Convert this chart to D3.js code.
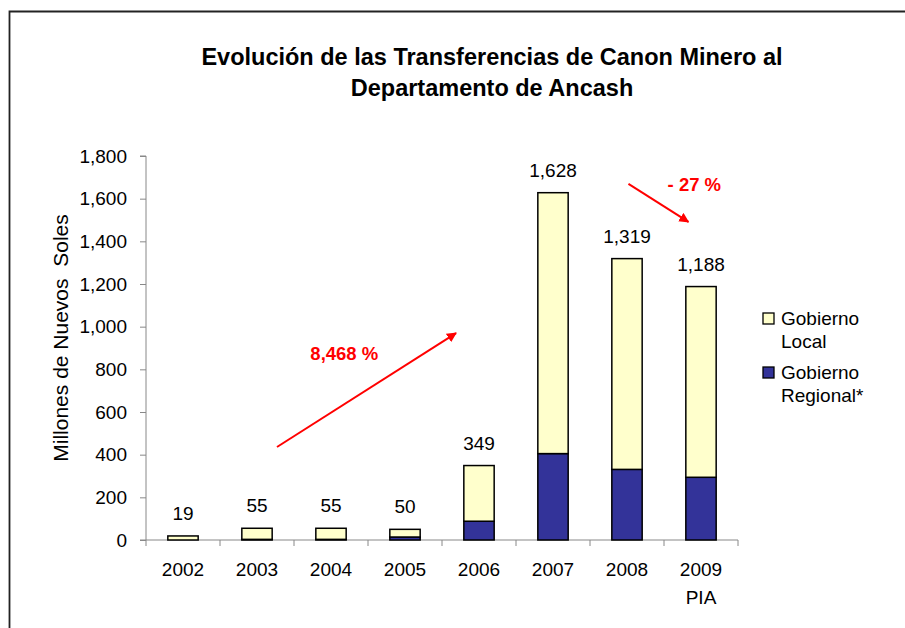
<!DOCTYPE html>
<html>
<head>
<meta charset="utf-8">
<script src="https://cdn.jsdelivr.net/npm/d3@7"></script>
<style>
  body { margin: 0; background: #fff; }
  svg { display: block; font-family: "Liberation Sans", Arial, sans-serif; }
</style>
</head>
<body>
<svg width="905" height="628"></svg>
<script>
var years = ["2002", "2003", "2004", "2005", "2006", "2007", "2008", "2009"];
var yearSub = ["", "", "", "", "", "", "", "PIA"];
var regional = [0, 3, 3, 14, 88, 405, 331, 294];
var local = [19, 52, 52, 36, 261, 1223, 988, 894];
var totals = ["19", "55", "55", "50", "349", "1,628", "1,319", "1,188"];
var yTicks = [0, 200, 400, 600, 800, 1000, 1200, 1400, 1600, 1800];
var seriesNames = ["Gobierno Local", "Gobierno Regional*"];
var seriesColors = ["#FFFFCC", "#333399"];

// annotations: [year, fraction within band, value]
var arrows = [
  {from: ["2003", 0.77, 436], to: ["2006", 0.19, 970]},
  {from: ["2008", 0.52, 1669], to: ["2009", 0.33, 1491]}
];
var notes = [
  {text: "8,468 %", at: ["2004", 0.68, 877]},
  {text: "- 27 %", at: ["2009", 0.41, 1669]}
];

var fs = "19px";

var svg = d3.select("svg"),
    margin = {top: 156, left: 146},
    width = 592,
    height = 384,
    g = svg.append("g").attr("transform", "translate(" + margin.left + "," + margin.top + ")");

// frame
svg.append("path")
    .attr("d", "M9.5,628V11.5H905")
    .attr("fill", "none")
    .attr("stroke", "#222")
    .attr("stroke-width", 1.8);

var x = d3.scaleBand().domain(years).range([0, width]).paddingInner(0.59).paddingOuter(0.295),
    xb = d3.scaleBand().domain(years).range([0, width]),
    y = d3.scaleLinear().domain([0, 1800]).range([height, 0]);

function px(p) { return xb(p[0]) + p[1] * xb.bandwidth(); }

// title
svg.append("text")
    .attr("x", 492).attr("y", 65)
    .attr("text-anchor", "middle")
    .style("font-size", "23.5px").style("font-weight", "bold")
    .text("Evolución de las Transferencias de Canon Minero al");
svg.append("text")
    .attr("x", 492).attr("y", 96)
    .attr("text-anchor", "middle")
    .style("font-size", "23.5px").style("font-weight", "bold")
    .text("Departamento de Ancash");

// y axis
var yAxis = g.append("g")
    .call(d3.axisLeft(y).tickValues(yTicks).tickFormat(d3.format(",")).tickSize(6).tickPadding(13));
yAxis.selectAll("line, path").attr("stroke", "#888");
yAxis.select(".domain").attr("d", "M-6," + y(0) + "H0V" + y(1800) + "H-6");
yAxis.selectAll("text").style("font-size", fs).attr("fill", "#000")
    .style("font-family", "'Liberation Sans', Arial, sans-serif");

g.append("text")
    .attr("transform", "translate(-78," + (height / 2 - 10) + ") rotate(-90)")
    .attr("text-anchor", "middle")
    .attr("xml:space", "preserve")
    .style("white-space", "pre")
    .style("font-size", "21px")
    .text("Millones de Nuevos  Soles");

// x axis
var xAxis = g.append("g").attr("transform", "translate(0," + height + ")");
xAxis.append("line").attr("x1", 0).attr("x2", width).attr("stroke", "#888");
xAxis.selectAll(".tk")
    .data(d3.range(years.length + 1))
    .enter().append("line")
    .attr("x1", function(i) { return i * xb.step(); })
    .attr("x2", function(i) { return i * xb.step(); })
    .attr("y1", 0).attr("y2", 6)
    .attr("stroke", "#888");
xAxis.selectAll(".yr")
    .data(years)
    .enter().append("text")
    .attr("x", function(d) { return xb(d) + xb.bandwidth() / 2; })
    .attr("y", 36)
    .attr("text-anchor", "middle")
    .style("font-size", fs)
    .text(function(d) { return d; });
xAxis.selectAll(".sub")
    .data(years)
    .enter().append("text")
    .attr("x", function(d) { return xb(d) + xb.bandwidth() / 2; })
    .attr("y", 64)
    .attr("text-anchor", "middle")
    .style("font-size", fs)
    .text(function(d, i) { return yearSub[i]; });

// stacked bars
var rows = years.map(function(d, i) { return {year: d, regional: regional[i], local: local[i]}; });
var stack = d3.stack().keys(["regional", "local"])(rows);
var colorOf = {regional: seriesColors[1], local: seriesColors[0]};

g.selectAll(".layer")
    .data(stack)
    .enter().append("g")
    .attr("fill", function(s) { return colorOf[s.key]; })
    .selectAll("rect")
    .data(function(s) { return s; })
    .enter().append("rect")
    .filter(function(d) { return d[1] - d[0] > 0; })
    .attr("x", function(d) { return x(d.data.year); })
    .attr("width", x.bandwidth())
    .attr("y", function(d) { return y(d[1]); })
    .attr("height", function(d) { return y(d[0]) - y(d[1]); })
    .attr("stroke", "#000")
    .attr("stroke-width", 1.5);

// totals
g.selectAll(".tot")
    .data(rows)
    .enter().append("text")
    .attr("x", function(d) { return x(d.year) + x.bandwidth() / 2; })
    .attr("y", function(d) { return y(d.regional + d.local) - 16; })
    .attr("text-anchor", "middle")
    .style("font-size", fs)
    .text(function(d, i) { return totals[i]; });

// arrows
svg.append("defs").append("marker")
    .attr("id", "ah")
    .attr("viewBox", "0 0 10 10")
    .attr("refX", 9).attr("refY", 5)
    .attr("markerWidth", 5).attr("markerHeight", 5)
    .attr("orient", "auto")
    .append("path").attr("d", "M0,0L10,5L0,10z").attr("fill", "#f00");

g.selectAll(".arrow")
    .data(arrows)
    .enter().append("line")
    .attr("x1", function(d) { return px(d.from); })
    .attr("y1", function(d) { return y(d.from[2]); })
    .attr("x2", function(d) { return px(d.to); })
    .attr("y2", function(d) { return y(d.to[2]); })
    .attr("stroke", "#f00")
    .attr("stroke-width", 2)
    .attr("marker-end", "url(#ah)");

g.selectAll(".note")
    .data(notes)
    .enter().append("text")
    .attr("x", function(d) { return px(d.at); })
    .attr("y", function(d) { return y(d.at[2]) + 7; })
    .attr("text-anchor", "middle")
    .attr("fill", "#f00")
    .style("font-size", "18.5px").style("font-weight", "bold")
    .text(function(d) { return d.text; });

// legend
var legend = svg.append("g").attr("transform", "translate(763,313)");
var items = legend.selectAll(".item")
    .data(seriesNames)
    .enter().append("g")
    .attr("transform", function(d, i) { return "translate(0," + (i * 54) + ")"; });
items.append("rect")
    .attr("width", 11).attr("height", 11)
    .attr("fill", function(d, i) { return seriesColors[i]; })
    .attr("stroke", "#000").attr("stroke-width", 1.3);
items.append("text")
    .attr("x", 18).attr("y", 12)
    .style("font-size", fs)
    .text(function(d) { return d.split(" ")[0]; });
items.append("text")
    .attr("x", 18).attr("y", 35)
    .style("font-size", fs)
    .text(function(d) { return d.split(" ")[1]; });
</script>
</body>
</html>
